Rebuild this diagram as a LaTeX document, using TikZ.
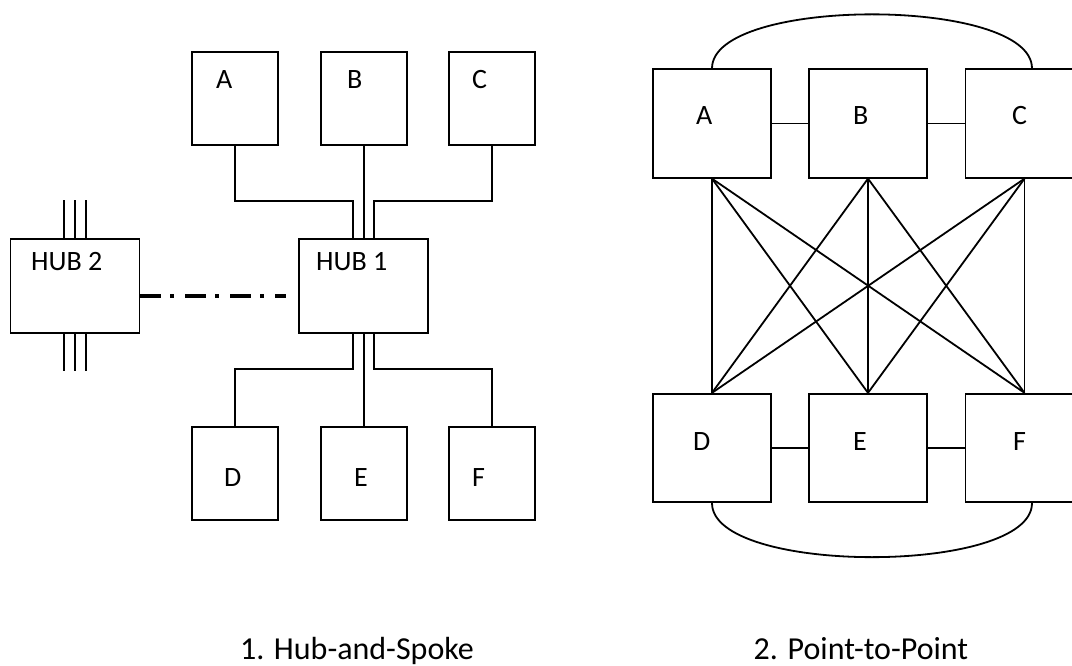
\documentclass[tikz,border=0pt]{standalone}
\usepackage{fontspec}
\setmainfont{Carlito}
\usetikzlibrary{calc}
\begin{document}
\begin{tikzpicture}[x=1pt,y=-1pt,
  box/.style={draw, line width=1.8pt, rectangle, inner sep=0pt},
  smallbox/.style={box, minimum width=86pt, minimum height=93pt},
  hubbox/.style={box, minimum width=129pt, minimum height=94pt},
  bigbox/.style={box, minimum width=118pt, minimum height=108.5pt},
  lbl/.style={anchor=base west, inner sep=0pt, font=\fontsize{28}{34}\selectfont},
  caption/.style={anchor=base, inner sep=0pt, font=\fontsize{32}{38}\selectfont},
  wire/.style={line width=1.8pt},
  link/.style={line width=3.2pt, dash pattern=on 21pt off 9pt on 4pt off 11pt},
]
\useasboundingbox (0,0) rectangle (1072,666);
\clip (0,0) rectangle (1072,666);

% ---------- hub-and-spoke ----------
\node[smallbox] (hA) at (235,98.5) {};
\node[smallbox] (hB) at (364,98.5) {};
\node[smallbox] (hC) at (492,98.5) {};
\node[smallbox] (hD) at (235,473.5) {};
\node[smallbox] (hE) at (364,473.5) {};
\node[smallbox] (hF) at (492,473.5) {};
\node[hubbox] (h1) at (363.5,286) {};
\node[hubbox] (h2) at (75,286) {};

\node[lbl] (hAl) at (216,89) {A};
\node[lbl] (hBl) at (347,89) {B};
\node[lbl] (hCl) at (472,89) {C};
\node[lbl] (hDl) at (224,486) {D};
\node[lbl] (hEl) at (354,486) {E};
\node[lbl] (hFl) at (472,486) {F};
\node[lbl] (h1l) at (316,270) {HUB 1};
\node[lbl] (h2l) at (31,270) {HUB 2};

% spokes into the hub
\draw[wire] (hA.south) |- ($(h1.north)+(-10.5,-37)$) -- ($(h1.north)+(-10.5,0)$);
\draw[wire] (hB.south) -- (hB.south |- h1.north);
\draw[wire] (hC.south) |- ($(h1.north)+(10.5,-37)$) -- ($(h1.north)+(10.5,0)$);
\draw[wire] ($(h1.south)+(-10.5,0)$) |- ($(hD.north)+(0,-57)$) -- (hD.north);
\draw[wire] (hE.north |- h1.south) -- (hE.north);
\draw[wire] ($(h1.south)+(10.5,0)$) |- ($(hF.north)+(0,-57)$) -- (hF.north);

% trunk stubs of the second hub
\foreach \dx in {-11,0,11} {
  \draw[wire] ($(h2.north)+(\dx,0)$) -- ++(0,-38);
  \draw[wire] ($(h2.south)+(\dx,0)$) -- ++(0,37);
}

% hub-to-hub link
\coordinate (linkEnd) at ($(h1.west)+(-12,10)$);
\draw[link] ($(h2.east)+(0,10)$) -- (linkEnd);

% ---------- point-to-point ----------
\node[bigbox] (pA) at (712,123.5) {};
\node[bigbox] (pB) at (868,123.5) {};
\node[bigbox] (pC) at (1024.5,123.5) {};
\node[bigbox] (pD) at (712,448) {};
\node[bigbox] (pE) at (868,448) {};
\node[bigbox] (pF) at (1024.5,448) {};

\node[lbl] (pAl) at (696,125) {A};
\node[lbl] (pBl) at (853,125) {B};
\node[lbl] (pCl) at (1012,125) {C};
\node[lbl] (pDl) at (693,450) {D};
\node[lbl] (pEl) at (853,450) {E};
\node[lbl] (pFl) at (1013,450) {F};

\draw[wire] (pA) -- (pB);
\draw[wire] (pB) -- (pC);
\draw[wire] (pD) -- (pE);
\draw[wire] (pE) -- (pF);

\foreach \s in {pA,pB,pC}
  \foreach \t in {pD,pE,pF}
    \draw[wire] (\s.south) -- (\t.north);

\draw[wire] (pA.north) .. controls ($(pA.north)+(0,-72)$) and ($(pC.north)+(7.5,-72)$) .. ($(pC.north)+(7.5,0)$);
\draw[wire] (pD.south) .. controls ($(pD.south)+(0,72)$) and ($(pF.south)+(7.5,72)$) .. ($(pF.south)+(7.5,0)$);

% ---------- captions ----------
\node[caption] (cap1) at (357,659) {1. Hub-and-Spoke};
\node[caption] (cap2) at (861,659) {2. Point-to-Point};
\end{tikzpicture}
\end{document}
